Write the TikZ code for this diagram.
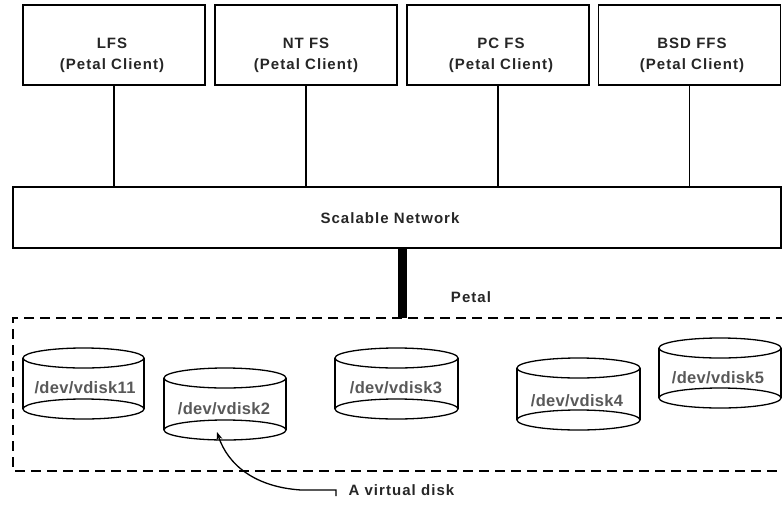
\documentclass[tikz,border=0pt]{standalone}
\usepackage{fontspec}
\setmainfont{Liberation Sans}
\newfontfamily\wideface[LetterSpace=7]{Liberation Sans}
\newfontfamily\diskface[LetterSpace=2]{Liberation Sans}
\usetikzlibrary{arrows.meta}
\usetikzlibrary{positioning}

\tikzset{
  client/.style={draw=black,line width=1.3pt,minimum width=182pt,minimum height=80pt},
  link/.style={draw=black,line width=1.3pt},
  disk/.style={draw=black,line width=1.3pt,fill=white},
  lbl/.style={align=center,font=\wideface\fontsize{15}{21}\selectfont\bfseries,text=black!85},
  dlbl/.style={font=\diskface\fontsize{16.5}{20}\selectfont\bfseries,text=black!65}
}

\begin{document}
\begin{tikzpicture}[x=1pt,y=-1pt]
\useasboundingbox (0,0) rectangle (782,504);

% clients
\node[client] (lfs) at (114,45) {};
\node[client] (ntfs) at (306,45) {};
\node[client] (pcfs) at (498,45) {};
\node[client] (bsd) at (689.5,45) {};
\node[lbl] (lfs-t) at (112,55) {LFS\\(Petal Client)};
\node[lbl] (ntfs-t) at (306,55) {NT FS\\(Petal Client)};
\node[lbl] (pcfs-t) at (501,55) {PC FS\\(Petal Client)};
\node[lbl] (bsd-t) at (692,55) {BSD FFS\\(Petal Client)};

% network
\node[client,minimum width=768pt,minimum height=61pt] (net) at (397,217.5) {};
\node[lbl] (net-t) at (390,218) {Scalable Network};
\draw[link] (lfs.south) -- (lfs.south |- net.north);
\draw[link] (ntfs.south) -- (ntfs.south |- net.north);
\draw[link] (pcfs.south) -- (pcfs.south |- net.north);
\draw[link] (bsd.south) -- (bsd.south |- net.north);

% petal
\coordinate (ptop) at (402,318);
\draw[line width=9pt] (ptop |- net.south) -- (ptop);
\node[lbl] (petal) at (471,297) {Petal};
\draw[black,line width=1.3pt,dash pattern=on 10pt off 6pt] (786,318) -- (13,318) -- (13,471) -- (786,471);

% disks
\draw[disk] (23,358) -- (23,409) (144,358) -- (144,409);
\draw[disk] (83.5,409) ellipse [x radius=60.5,y radius=10];
\draw[disk] (83.5,358) ellipse [x radius=60.5,y radius=10];
\node[dlbl] (vd11) at (85,388) {/dev/vdisk11};

\draw[disk] (164,378) -- (164,430) (286,378) -- (286,430);
\draw[disk] (225,430) ellipse [x radius=61,y radius=10];
\draw[disk] (225,378) ellipse [x radius=61,y radius=10];
\node[dlbl] (vd2) at (224,409) {/dev/vdisk2};

\draw[disk] (335,358) -- (335,409) (458,358) -- (458,409);
\draw[disk] (396.5,409) ellipse [x radius=61.5,y radius=10];
\draw[disk] (396.5,358) ellipse [x radius=61.5,y radius=10];
\node[dlbl] (vd3) at (396,388) {/dev/vdisk3};

\draw[disk] (517,368) -- (517,420) (640,368) -- (640,420);
\draw[disk] (578.5,420) ellipse [x radius=61.5,y radius=10];
\draw[disk] (578.5,368) ellipse [x radius=61.5,y radius=10];
\node[dlbl] (vd4) at (577,401) {/dev/vdisk4};

\draw[disk] (659,348) -- (659,398) (781,348) -- (781,398);
\draw[disk] (720,398) ellipse [x radius=61,y radius=10];
\draw[disk] (720,348) ellipse [x radius=61,y radius=10];
\node[dlbl] (vd5) at (718,378) {/dev/vdisk5};

% note
\coordinate (d2tip) at (217,432);
\node[lbl,anchor=west] (vnote) at (345,490) {A virtual disk};
\draw[link,-{Stealth[length=8pt,width=6pt]}] ([xshift=-9pt,yshift=-6pt]vnote.west) -- ([xshift=-9pt]vnote.west) -- ++(-35,0) .. controls (255,487) and (228,465) .. (d2tip);

\end{tikzpicture}
\end{document}
